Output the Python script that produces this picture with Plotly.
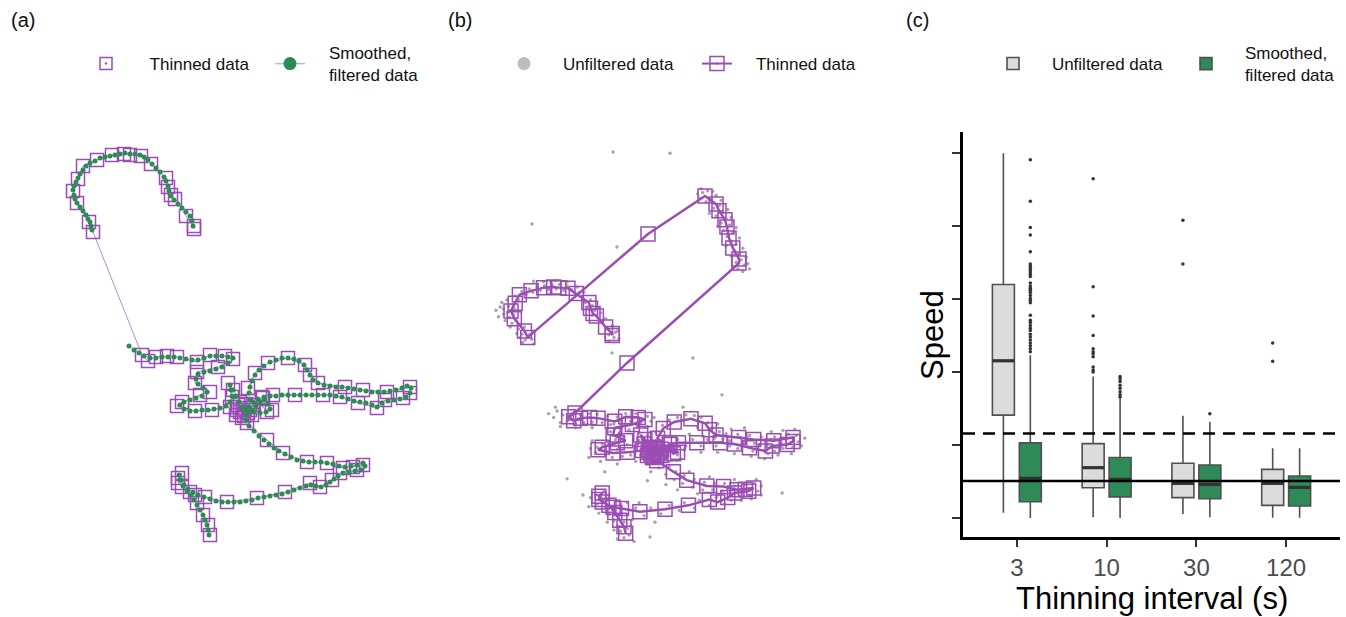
import plotly.graph_objects as go

W, H = 1346, 617

# ---------------- Panel (a)/(b): track (same coordinate units in both panels) ----------------
thin_arc_x = [194, 194, 186, 175, 171, 168, 166, 151, 141, 130, 124, 112, 97, 83, 78, 73, 77, 89, 93]
thin_arc_y = [229, 226, 216, 199, 195, 187, 178, 164, 156, 155, 154, 155, 160, 166, 179, 191, 203, 222, 232]
thin_low_x = [142, 148, 156, 167, 177, 197, 210, 225, 233,
              218, 197, 195, 210, 200, 182, 177, 195, 212, 230, 232, 228, 233, 240, 243, 248, 242, 237,
              238, 245, 250, 240, 246, 252, 236, 244, 253, 263, 272, 267,
              248, 255, 268, 288, 305, 310, 318, 345, 363, 387, 410, 410, 403, 385, 377, 358, 340, 323,
              295, 273, 262,
              247, 267, 283, 307, 327, 343, 353, 363, 357, 340, 332, 320, 310, 285, 257, 227, 205, 195,
              182, 178, 182, 178, 190, 197, 203, 208, 210]
thin_low_y = [355, 361, 357, 356, 357, 362, 355, 356, 359,
              367, 372, 383, 392, 395, 402, 406, 411, 410, 407, 397, 383, 390, 402, 410, 413, 418, 410,
              405, 408, 410, 412, 404, 415, 415, 416, 405, 398, 410, 412,
              388, 373, 363, 358, 365, 375, 383, 387, 390, 392, 387, 393, 398, 400, 408, 403, 397, 395,
              395, 395, 397,
              423, 440, 453, 462, 463, 468, 467, 465, 470, 473, 480, 487, 483, 492, 498, 502, 497, 495,
              487, 478, 473, 483, 492, 503, 515, 525, 535]
err_x = [236.7, 304.8, 318, 321.5, 328.7, 331, 333.5, 338, 345.4, 345.4, 211.6, 149.5]
err_y = [72, 13, 25.5, 36, 50, 61, 78, 93.6, 110.7, 117, 271.6, 349]

smooth_arc_x = [193, 192, 190, 186, 182, 178, 174, 171, 169, 168, 166, 164, 160, 156, 152, 148, 144, 140, 135,
                130, 125, 120, 115, 110, 105, 100, 95, 90, 86, 83, 80, 78, 76, 74, 73, 74, 75, 77, 80, 83,
                86, 88, 90, 91, 92]
smooth_arc_y = [226, 221, 216, 212, 208, 204, 200, 196, 191, 186, 181, 177, 172, 168, 164, 160, 157, 155, 154,
                154, 153, 154, 155, 156, 157, 158, 161, 163, 166, 170, 174, 178, 182, 186, 190, 195, 199, 203,
                207, 211, 215, 219, 222, 226, 230]
smooth_low_x = [129, 134, 139, 144, 150, 156, 162, 168, 174, 180, 186, 192, 198, 204, 210, 216, 222, 228, 233,
                228, 222, 216, 210, 204, 198, 196, 198, 203, 207, 202, 196, 190, 184, 180, 184, 190, 196,
                202, 208, 214, 220, 226, 230, 232, 231, 230, 233, 236, 239, 242, 245, 248, 252, 256, 260,
                264, 268, 270, 266, 260, 254,
                250, 249, 250, 252, 255, 259, 264, 270, 276, 282, 288, 294, 299, 304, 307, 310, 313, 318,
                324, 330, 336, 342, 348, 354, 360, 366, 372, 378, 384, 390, 396, 402, 407, 411, 410, 406,
                400, 394, 388, 382, 377, 372, 366, 360, 354, 348, 342, 336, 330, 324, 318, 312, 306, 300,
                294, 288, 282, 276, 270, 264, 258, 253, 249,
                246, 246, 249, 254, 259, 264, 269, 274, 279, 285, 291, 297, 303, 309, 315, 321, 327, 333,
                339, 345, 351, 357, 363, 365, 361, 355, 349, 343, 338, 334, 330, 326, 321, 316, 311, 306,
                300, 294, 288, 282, 276, 270, 264, 258, 252, 246, 240, 234, 228, 222, 216, 210, 204, 198,
                193, 188, 184, 181, 179, 180, 183, 187, 191, 194, 197, 200, 203, 205, 207, 208, 209]
smooth_low_y = [346, 350, 353, 356, 358, 358, 357, 357, 357, 358, 359, 360, 360, 358, 356, 356, 356, 357, 358,
                363, 367, 369, 371, 372, 374, 379, 384, 388, 392, 396, 398, 400, 402, 405, 409, 411, 411,
                410, 410, 409, 408, 406, 402, 396, 390, 385, 390, 396, 402, 407, 410, 412, 410, 406, 402,
                400, 404, 409, 412, 413, 412,
                400, 393, 387, 381, 375, 370, 366, 362, 360, 358, 358, 359, 361, 365, 370, 375, 380, 383,
                385, 386, 387, 387, 388, 389, 390, 391, 392, 392, 392, 391, 390, 388, 386, 388, 393, 397,
                399, 400, 401, 403, 407, 405, 403, 402, 401, 399, 397, 396, 395, 395, 395, 395, 395, 395,
                395, 395, 395, 396, 396, 397, 399, 402, 407,
                415, 420, 426, 431, 436, 440, 444, 448, 451, 454, 457, 460, 461, 462, 462, 462, 463, 464,
                466, 467, 466, 465, 463, 466, 470, 471, 472, 473, 476, 479, 482, 485, 487, 486, 485, 486,
                488, 490, 492, 494, 495, 496, 497, 498, 500, 501, 502, 502, 502, 502, 501, 499, 497, 495,
                492, 489, 485, 480, 475, 480, 486, 491, 495, 500, 505, 510, 515, 520, 525, 530, 535]

raw_x = [196, 190, 198, 188, 194, 182, 186, 176, 170, 173, 165, 170, 162, 168, 158, 154, 150, 145, 140, 136,
         131, 127, 122, 118, 113, 108, 104, 99, 95, 91, 86, 82, 78, 75, 70, 77, 69, 76, 71, 79, 74, 84, 82,
         89, 86, 95, 90, 98, 87, 55, 58, 62,
         302, 308, 298, 312, 306, 318, 322, 315, 326, 318, 330, 324, 334, 327, 338, 331, 336, 342, 330, 340,
         346, 336, 348, 342, 352, 344, 350, 356, 310, 300,
         263, 98, 199.6, 193.7, 290.4, 325, 140, 185, 159, 397, 239, 278.5, 245, 195,
         128, 135, 140, 146, 150, 156, 160, 166, 170, 176, 182, 188, 192, 200, 204, 210, 216, 222, 228, 236,
         240, 124, 132,
         224, 214, 205, 196, 192, 202, 208, 212, 198, 190, 182, 176, 174, 186, 194, 200, 206, 216, 222, 228,
         234, 238, 226, 226, 236, 240, 244, 250, 256, 262, 266, 272, 260, 248, 238, 254,
         246, 254, 262, 272, 282, 292, 300, 308, 314, 316, 322, 330, 334, 344, 350, 358, 364, 372, 380, 388,
         396, 404, 414, 416, 410, 398, 388, 380, 370, 362, 352, 344, 334, 326, 318, 308, 300, 290, 282, 272,
         264,
         242, 252, 250, 262, 258, 270, 268, 280, 278, 292, 290, 304, 302, 316, 314, 328, 326, 340, 338, 352,
         350, 364, 368, 358, 346, 336, 328, 318, 310, 298, 292, 280, 274, 262, 252, 240, 232, 222, 212, 204,
         196, 188, 176, 174, 184, 186, 190, 202, 196, 208, 200, 212, 204, 214, 208,
         60, 64, 66, 72, 80, 100, 112, 126, 140, 152, 160, 178, 180, 200, 202, 190, 84, 100, 64, 68,
         296, 314, 324, 332, 336, 342, 346, 350, 354, 358, 320,
         126, 118, 132, 150, 170, 186, 236, 244, 246, 170, 168, 166, 180, 200, 222, 236, 262, 276, 280, 286,
         296, 300, 320, 340, 360, 376, 392, 408, 420, 424, 412, 398, 384, 352, 336, 320, 240, 236, 258, 272,
         296, 320, 348, 360, 372, 372, 366, 340, 310, 286, 226, 212, 190, 168, 166, 178, 188, 218, 216, 196,
         200, 220]
raw_y = [232, 228, 224, 218, 214, 206, 203, 200, 198, 190, 188, 183, 178, 174, 170, 163, 168, 158, 152, 159,
         150, 157, 151, 158, 152, 159, 154, 162, 157, 166, 161, 174, 168, 181, 184, 188, 193, 197, 201, 206,
         210, 213, 219, 216, 227, 228, 236, 235, 240, 190, 200, 178,
         8, 5, 16, 18, 22, 12, 28, 32, 38, 44, 48, 55, 58, 66, 70, 76, 84, 88, 90, 98,
         102, 106, 112, 116, 120, 126, 130, 118, 40, 2,
         -53, 56.5, 92, 256, 264, 321, 451, 440, 476, 473, 541, 340, 518, -55,
         346, 352, 362, 350, 366, 352, 364, 350, 363, 351, 364, 354, 367, 355, 366, 350, 362, 350, 364, 354,
         362, 356, 364,
         370, 375, 366, 366, 378, 380, 386, 398, 390, 396, 397, 402, 410, 414, 418, 405, 416, 414, 402, 414,
         404, 396, 392, 380, 384, 408, 402, 418, 400, 408, 396, 414, 418, 424, 418, 392,
         380, 368, 360, 356, 352, 353, 356, 364, 372, 388, 378, 381, 392, 382, 394, 384, 396, 386, 398, 386,
         396, 382, 384, 394, 402, 404, 408, 412, 398, 408, 396, 404, 400, 390, 400, 390, 400, 390, 400, 390,
         402,
         425, 424, 434, 432, 444, 440, 452, 446, 458, 452, 464, 456, 468, 458, 468, 458, 470, 462, 474, 460,
         472, 458, 470, 476, 478, 484, 490, 480, 492, 484, 496, 488, 500, 492, 505, 496, 508, 496, 506, 490,
         500, 484, 490, 476, 470, 496, 506, 508, 516, 518, 524, 528, 532, 538, 542,
         185, 196, 206, 216, 226, 145, 146, 144, 146, 154, 162, 186, 194, 222, 234, 238, 232, 242, 188, 174,
         10, 6, 20, 34, 46, 62, 78, 94, 108, 126, 60,
         340, 350, 370, 372, 372, 372, 370, 356, 392, 392, 404, 418, 424, 428, 424, 428, 424, 420, 406, 382,
         372, 410, 410, 412, 416, 420, 414, 412, 400, 388, 374, 376, 378, 372, 374, 366, 440, 454, 460, 468,
         474, 476, 484, 482, 462, 476, 452, 452, 448, 440, 488, 488, 476, 480, 494, 504, 518, 514, 524, 530,
         544, 548]

# ---------------- Panel (c): speed by thinning interval ----------------
intervals = ["3", "10", "30", "120"]
unf_q1 = [1.41, 0.415, 0.28, 0.174]
unf_med = [2.155, 0.69, 0.475, 0.475]
unf_q3 = [3.20, 1.02, 0.75, 0.667]
unf_lo = [0.073, 0.01, 0.055, 0.005]
unf_hi = [5.00, 1.94, 1.40, 0.955]
unf_out = [[], [4.65, 3.17, 2.77, 2.50, 2.32, 2.28, 2.25, 2.21, 2.07, 2.03, 2.00],
           [4.08, 3.48], [2.40, 2.15]]
smo_q1 = [0.223, 0.29, 0.264, 0.164]
smo_med = [0.544, 0.53, 0.46, 0.42]
smo_q3 = [1.03, 0.83, 0.726, 0.575]
smo_lo = [0.0, 0.0, 0.01, 0.005]
smo_hi = [2.23, 1.64, 1.32, 0.955]
smo_out = [[4.91, 4.34, 3.98, 3.88, 3.65, 3.48, 3.45, 3.42, 3.40, 3.37, 3.34, 3.31, 3.22, 3.18, 3.15, 3.12,
            3.09, 3.05, 3.01, 2.98, 2.95, 2.78, 2.71, 2.68, 2.64, 2.60, 2.57, 2.52, 2.48, 2.44, 2.40, 2.36,
            2.32, 2.28],
           [1.94, 1.91, 1.87, 1.82, 1.78, 1.73, 1.69, 1.66],
           [1.43], []]
ref_solid = 0.507
ref_dashed = 1.16
speed_ticks = [0, 1, 2, 3, 4, 5]

# ---------------- styles ----------------
PURPLE = "#9B4DB5"
LAVENDER = "#B889CC"
GREEN = "#2E8B57"
LIGHTGREEN = "#9CCFAE"
GRAYPT = "#A4A4A4"
BOXGRAY = "#DCDCDC"
BOXLINE = "#505050"
FONT = "Arial"
DODGE = 0.15
BOX_W = 0.245
NB = "\u00a0"


def dx(a, b):
    return [a / W, b / W]


def dy(top, bottom):
    return [1 - bottom / H, 1 - top / H]


def pad(label, n=4):
    return "<br>".join(NB * n + part for part in label.split("<br>"))


fig = go.Figure()

# ---- panel (a)
thin_a_x = thin_arc_x + thin_low_x
thin_a_y = thin_arc_y + thin_low_y
fig.add_trace(go.Scatter(x=thin_a_x, y=thin_a_y, mode="lines", line=dict(color=LAVENDER, width=1),
                         xaxis="x", yaxis="y", showlegend=False, hoverinfo="skip"))
fig.add_trace(go.Scatter(x=thin_a_x, y=thin_a_y, mode="markers",
                         marker=dict(symbol="square-open", size=13, color=PURPLE, line=dict(width=1.5)),
                         xaxis="x", yaxis="y", showlegend=False))
fig.add_trace(go.Scatter(x=smooth_arc_x + [None] + smooth_low_x, y=smooth_arc_y + [None] + smooth_low_y,
                         mode="lines+markers", line=dict(color=LIGHTGREEN, width=1),
                         marker=dict(size=5, color=GREEN), connectgaps=False,
                         xaxis="x", yaxis="y", showlegend=False))
fig.add_trace(go.Scatter(x=[None], y=[None], mode="markers", name=pad("Thinned data", 5),
                         marker=dict(symbol="square-open-dot", size=12, color=PURPLE, line=dict(width=1.5)),
                         xaxis="x", yaxis="y", legend="legend"))
fig.add_trace(go.Scatter(x=[None], y=[None], mode="lines+markers", name=pad("Smoothed,<br>filtered data"),
                         line=dict(color=LIGHTGREEN, width=1.5), marker=dict(size=13, color=GREEN),
                         xaxis="x", yaxis="y", legend="legend2"))

# ---- panel (b)
thin_b_x = thin_arc_x + err_x + thin_low_x
thin_b_y = thin_arc_y + err_y + thin_low_y
fig.add_trace(go.Scatter(x=raw_x, y=raw_y, mode="markers", marker=dict(size=3.4, color=GRAYPT),
                         xaxis="x2", yaxis="y2", showlegend=False))
fig.add_trace(go.Scatter(x=thin_b_x, y=thin_b_y, mode="lines+markers",
                         line=dict(color=PURPLE, width=2.5),
                         marker=dict(symbol="square-open", size=14, color=PURPLE, line=dict(width=1.5)),
                         xaxis="x2", yaxis="y2", showlegend=False))
fig.add_trace(go.Scatter(x=[None], y=[None], mode="markers", name=pad("Unfiltered data"),
                         marker=dict(size=13, color="#BDBDBD"), xaxis="x2", yaxis="y2", legend="legend3"))
fig.add_trace(go.Scatter(x=[None], y=[None], mode="lines+markers", name=pad("Thinned data"),
                         line=dict(color=PURPLE, width=2),
                         marker=dict(symbol="square-open-dot", size=14, color=PURPLE, line=dict(width=1.5)),
                         xaxis="x2", yaxis="y2", legend="legend4"))

# ---- panel (c)
idx = list(range(len(intervals)))
fig.add_trace(go.Box(x=[i - DODGE for i in idx], q1=unf_q1, median=unf_med, q3=unf_q3,
                     lowerfence=unf_lo, upperfence=unf_hi, width=BOX_W, whiskerwidth=0,
                     fillcolor=BOXGRAY, line=dict(color=BOXLINE, width=1.6), boxpoints=False,
                     name=pad("Unfiltered data"), xaxis="x3", yaxis="y3", legend="legend5"))
fig.add_trace(go.Box(x=[i + DODGE for i in idx], q1=smo_q1, median=smo_med, q3=smo_q3,
                     lowerfence=smo_lo, upperfence=smo_hi, width=BOX_W, whiskerwidth=0,
                     fillcolor=GREEN, line=dict(color=BOXLINE, width=1.6), boxpoints=False,
                     name=pad("Smoothed,<br>filtered data"), xaxis="x3", yaxis="y3", legend="legend6"))

# thicker median bars (ggplot style)
mx, my = [], []
for centers, meds in (([i - DODGE for i in idx], unf_med), ([i + DODGE for i in idx], smo_med)):
    for c, m in zip(centers, meds):
        mx += [c - BOX_W / 2, c + BOX_W / 2, None]
        my += [m, m, None]
fig.add_trace(go.Scatter(x=mx, y=my, mode="lines", line=dict(color="#333333", width=3.2),
                         xaxis="x3", yaxis="y3", showlegend=False, hoverinfo="skip"))

ox, oy = [], []
for i, vals in zip(idx, unf_out):
    ox += [i - DODGE] * len(vals)
    oy += vals
for i, vals in zip(idx, smo_out):
    ox += [i + DODGE] * len(vals)
    oy += vals
fig.add_trace(go.Scatter(x=ox, y=oy, mode="markers", marker=dict(size=3.5, color="#333333"),
                         xaxis="x3", yaxis="y3", showlegend=False))

fig.add_shape(type="line", xref="x3 domain", yref="y3", x0=0, x1=1, y0=ref_solid, y1=ref_solid,
              line=dict(color="black", width=2.5), layer="above")
fig.add_shape(type="line", xref="x3 domain", yref="y3", x0=0, x1=1, y0=ref_dashed, y1=ref_dashed,
              line=dict(color="black", width=2.5, dash="12px,8px"), layer="above")


def leg(icon_x, y=64):
    return dict(x=(icon_x - 17) / W, y=1 - y / H, orientation="h", yanchor="middle", xanchor="left",
                bgcolor="rgba(0,0,0,0)", font=dict(family=FONT, size=17, color="#111111"),
                itemclick=False, itemdoubleclick=False)


fig.update_layout(
    width=W, height=H, margin=dict(l=0, r=0, t=0, b=0),
    paper_bgcolor="white", plot_bgcolor="white",
    font=dict(family=FONT),
    xaxis=dict(domain=dx(40, 440), range=[40, 440], visible=False, anchor="y"),
    yaxis=dict(domain=dy(130, 560), range=[560, 130], visible=False, anchor="x"),
    xaxis2=dict(domain=dx(470, 860), range=[24, 490], visible=False, anchor="y2"),
    yaxis2=dict(domain=dy(130, 560), range=[576.6, -89], visible=False, anchor="x2"),
    xaxis3=dict(domain=dx(963, 1340), range=[-0.6, 3.6], tickvals=idx, ticktext=intervals, anchor="y3",
                showline=True, linecolor="black", linewidth=2.5, ticks="outside", ticklen=7,
                tickwidth=2, tickcolor="#333333", showgrid=False, zeroline=False,
                tickfont=dict(family=FONT, size=24, color="#4D4D4D")),
    yaxis3=dict(domain=dy(132, 537), range=[-0.26, 5.29], tickvals=speed_ticks, showticklabels=False,
                anchor="x3", showline=True, linecolor="black", linewidth=2.5, ticks="outside", ticklen=8,
                tickwidth=2, tickcolor="#333333", showgrid=False, zeroline=False),
    legend=leg(103), legend2=leg(287), legend3=leg(521), legend4=leg(714),
    legend5=leg(1010), legend6=leg(1203),
    showlegend=True,
)

for t, x, y in [("(a)", 9, 20), ("(b)", 446, 20), ("(c)", 904, 20)]:
    fig.add_annotation(text=t, xref="paper", yref="paper", x=x / W, y=1 - y / H, xanchor="left",
                       yanchor="middle", showarrow=False, font=dict(family=FONT, size=20, color="#111111"))
fig.add_annotation(text="Speed", xref="paper", yref="paper", x=932 / W, y=1 - 335 / H, textangle=-90,
                   showarrow=False, xanchor="center", yanchor="middle",
                   font=dict(family=FONT, size=31, color="black"))
fig.add_annotation(text="Thinning interval (s)", xref="paper", yref="paper", x=1152 / W, y=1 - 598 / H,
                   showarrow=False, xanchor="center", yanchor="middle",
                   font=dict(family=FONT, size=31, color="black"))

fig.write_html("out.html", config={"displayModeBar": False},
               post_script="document.body.style.margin='0';document.body.style.overflow='hidden';")
